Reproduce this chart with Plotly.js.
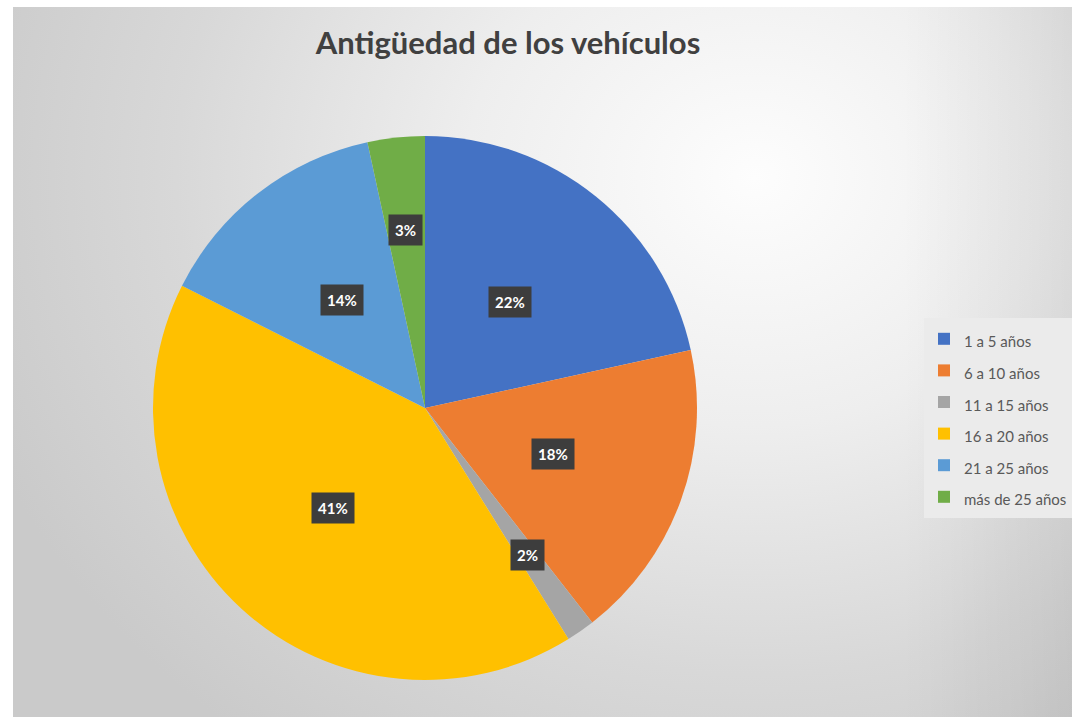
<!DOCTYPE html>
<html>
<head>
<meta charset="utf-8">
<script src="https://cdn.plot.ly/plotly-3.0.1.min.js"></script>
<style>
  html, body { margin: 0; padding: 0; background: #ffffff; }
  #wrap { position: relative; width: 1072px; height: 717px; overflow: hidden; }
  #bg { position: absolute; left: 13px; top: 7px; right: 0; bottom: 0;
        background:
          linear-gradient(to right, rgba(0,0,0,0) 84%, rgba(0,0,0,0.07) 100%),
          radial-gradient(ellipse 78% 100% at 70% 24%, #fdfdfd 0%, #eeeeee 35%, #d8d8d8 70%, #cacaca 100%); }
  #chart { position: absolute; left: 0; top: 0; width: 1072px; height: 717px; }
</style>
</head>
<body>
<div id="wrap">
  <div id="bg"></div>
  <div id="chart"></div>
</div>
<script>
// ---- data ----
const categories = ["1 a 5 años", "6 a 10 años", "11 a 15 años", "16 a 20 años", "21 a 25 años", "más de 25 años"];
const values = [21.6, 17.9, 1.7, 41.3, 14.2, 3.4];
const colors = ["#4472C4", "#ED7D31", "#A5A5A5", "#FFC000", "#5B9BD5", "#70AD47"];
const chartTitle = "Antigüedad de los vehículos";

// ---- layout constants (pixels) ----
const W = 1072, H = 717;
const pieLeft = 153, pieRight = 697, pieTop = 136, pieBottom = 680;
const domX = [pieLeft / W, pieRight / W];
const domY = [1 - pieBottom / H, 1 - pieTop / H];
const cx = (pieLeft + pieRight) / 2, cy = (pieTop + pieBottom) / 2;
const R = (pieRight - pieLeft) / 2;

// label annotations derived from the data (clockwise from 12 o'clock)
const total = values.reduce((a, b) => a + b, 0);
let cum = 0;
const annotations = values.map((v, i) => {
  const frac = v / total;
  const mid = (cum + frac / 2) * 2 * Math.PI;
  cum += frac;
  const rf = frac < 0.05 ? 0.66 : 0.5;
  const px = cx + rf * R * Math.sin(mid);
  const py = cy - rf * R * Math.cos(mid);
  return {
    x: px / W, y: 1 - py / H, xref: "paper", yref: "paper",
    text: "<b>" + Math.round(frac * 100) + "%</b>",
    showarrow: false,
    font: { family: "Lato, 'Open Sans', sans-serif", size: 15, color: "#ffffff" },
    bgcolor: "#3d3d3d",
    borderpad: 6,
    xanchor: "center", yanchor: "middle"
  };
});

const trace = {
  type: "pie",
  labels: categories.map(c => '<span style="font-size:15px">' + c + '</span>'),
  values: values,
  sort: false,
  direction: "clockwise",
  rotation: 0,
  marker: { colors: colors, line: { width: 0 } },
  textinfo: "none",
  hoverinfo: "skip",
  domain: { x: domX, y: domY }
};

const layout = {
  width: W, height: H,
  margin: { l: 0, r: 0, t: 0, b: 0 },
  paper_bgcolor: "rgba(0,0,0,0)",
  plot_bgcolor: "rgba(0,0,0,0)",
  title: {
    text: "<b>" + chartTitle + "</b>",
    x: 508 / W, xanchor: "center",
    y: 1 - 43 / H, yanchor: "middle",
    font: { family: "Lato, 'Open Sans', sans-serif", size: 31, color: "#404040" }
  },
  showlegend: true,
  legend: {
    x: 1, xanchor: "right",
    y: 1 - 418 / H, yanchor: "middle",
    bgcolor: "#ebebeb",
    font: { family: "Lato, 'Open Sans', sans-serif", size: 22, color: "#595959" },
    itemclick: false, itemdoubleclick: false
  },
  annotations: annotations
};

Plotly.newPlot("chart", [trace], layout, { displayModeBar: false, staticPlot: true });
</script>
</body>
</html>
